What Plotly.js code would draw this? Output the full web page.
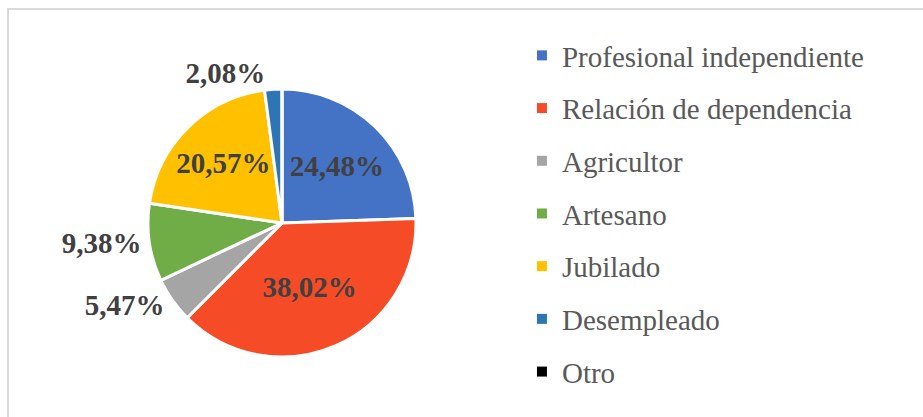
<!DOCTYPE html>
<html>
<head>
<meta charset="utf-8">
<script src="https://cdn.plot.ly/plotly-3.0.1.min.js"></script>
<style>
  body { margin: 0; background: #ffffff; }
  #wrap { position: relative; width: 923px; height: 417px; }
  #frame {
    position: absolute; left: 7px; top: 8px; width: 930px; height: 420px;
    border-top: 2px solid #d9d9d9; border-left: 2px solid #d9d9d9;
    pointer-events: none;
  }
</style>
</head>
<body>
<div id="wrap">
  <div id="chart" style="width:923px;height:417px;"></div>
  <div id="frame"></div>
</div>
<script>
// Occupation shares (%)
const labels = ['Profesional independiente', 'Relación de dependencia', 'Agricultor',
                'Artesano', 'Jubilado', 'Desempleado', 'Otro'];
const values = [24.48, 38.02, 5.47, 9.38, 20.57, 2.08, 0];
const colors = ['#4472C4', '#F54C27', '#A5A5A5', '#70AD47', '#FFC000', '#2E75B6', '#000000'];
const labelPos = ['inside', 'inside', 'outside', 'outside', 'inside', 'outside', 'none'];

const labelFont = { family: 'Liberation Serif, Times New Roman, serif', size: 29, color: '#404040', weight: 'bold' };

const pie = {
    type: 'pie',
    labels: labels,
    values: values,
    sort: false,
    direction: 'clockwise',
    rotation: 0,
    marker: { colors: colors, line: { color: '#ffffff', width: 3 } },
    texttemplate: '%{value:.2f}%',
    textposition: labelPos,
    insidetextorientation: 'horizontal',
    insidetextfont: labelFont,
    outsidetextfont: labelFont,
    domain: { x: [0.1603, 0.4507], y: [0, 1] },
    showlegend: false,
    hoverinfo: 'label+percent'
};

// legend entries drawn as empty marker traces so rows can be spaced out
const legendTraces = labels.map((name, i) => ({
    type: 'scatter',
    mode: 'markers',
    x: [null],
    y: [null],
    name: name,
    legendgroup: 'g' + i,
    marker: { symbol: 'square', size: 10, color: colors[i], line: { width: 0 } },
    hoverinfo: 'skip'
}));

const layout = {
    width: 923,
    height: 417,
    margin: { l: 0, r: 0, t: 89, b: 60, autoexpand: false },
    separators: ',.',
    paper_bgcolor: '#ffffff',
    plot_bgcolor: '#ffffff',
    xaxis: { visible: false },
    yaxis: { visible: false },
    showlegend: true,
    legend: {
        xref: 'container',
        yref: 'container',
        x: 0.5655,
        xanchor: 'left',
        y: 0.928,
        yanchor: 'top',
        traceorder: 'grouped',
        tracegroupgap: 12,
        maxheight: 1,
        font: { family: 'Liberation Serif, Times New Roman, serif', size: 29, color: '#595959' },
        bgcolor: 'rgba(0,0,0,0)'
    }
};

Plotly.newPlot('chart', [pie].concat(legendTraces), layout, { displayModeBar: false, staticPlot: true });
</script>
</body>
</html>
